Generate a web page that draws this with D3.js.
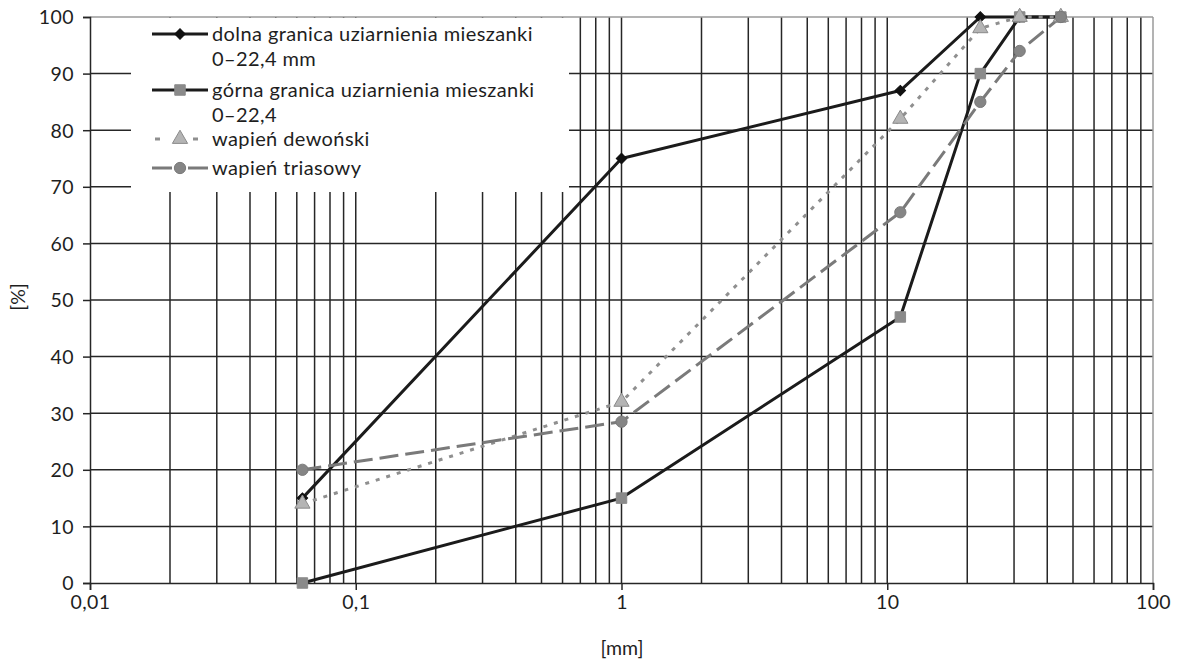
<!DOCTYPE html>
<html>
<head>
<meta charset="utf-8">
<script src="https://cdn.jsdelivr.net/npm/d3@7"></script>
<style>
  html, body { margin: 0; padding: 0; background: #fff; }
  svg { display: block; font-family: Lato, "Open Sans", sans-serif; }
</style>
</head>
<body>
<svg id="chart" width="1178" height="662"></svg>
<script>
// Sieve sizes [mm] and cumulative passing [%]
const sieves = [0.063, 1, 11.2, 22.4, 31.5, 45];
const lowerLimit = [15, 75, 87, 100, 100, 100];
const upperLimit = [0, 15, 47, 90, 100, 100];
const devonianLimestone = [14, 32, 82, 98, 100, 100];
const triassicLimestone = [20, 28.5, 65.5, 85, 94, 100];

const xTicks = [0.01, 0.1, 1, 10, 100];
const xTickLabels = ["0,01", "0,1", "1", "10", "100"];
const yTicks = [0, 10, 20, 30, 40, 50, 60, 70, 80, 90, 100];

const seriesNames = [
  ["dolna granica uziarnienia mieszanki", "0–22,4 mm"],
  ["górna granica uziarnienia mieszanki", "0–22,4"],
  ["wapień dewoński"],
  ["wapień triasowy"]
];

(function () {
const svg = d3.select("#chart");
const plotLeft = 90, plotRight = 1153, plotTop = 17, plotBottom = 583;
const textColor = "#1e1e1e";
const fontFamily = "Lato, 'Open Sans', sans-serif";
const tickFont = 19.5;

const x = d3.scaleLog().domain([0.01, 100]).range([plotLeft, plotRight]);
const y = d3.scaleLinear().domain([0, 100]).range([plotBottom, plotTop]);

const gridColor = "#262626";

// Vertical grid: 1..9 in every decade
const minorX = [];
for (let e = -2; e < 2; e++) {
  for (let k = 1; k <= 9; k++) minorX.push(k * Math.pow(10, e));
}

svg.append("g").selectAll("line").data(minorX.filter(v => v > 0.01 && v < 100)).join("line")
  .attr("x1", d => x(d)).attr("x2", d => x(d))
  .attr("y1", plotTop).attr("y2", plotBottom)
  .attr("stroke", gridColor).attr("stroke-width", 1.5);

// Horizontal grid
svg.append("g").selectAll("line").data(yTicks.filter(v => v > 0 && v < 100)).join("line")
  .attr("x1", plotLeft).attr("x2", plotRight)
  .attr("y1", d => y(d)).attr("y2", d => y(d))
  .attr("stroke", gridColor).attr("stroke-width", 1.5);

// Plot border (top / right)
svg.append("line").attr("x1", plotLeft).attr("x2", plotRight).attr("y1", plotTop).attr("y2", plotTop)
  .attr("stroke", "#9a9a9a").attr("stroke-width", 1.5);
svg.append("line").attr("x1", plotRight).attr("x2", plotRight).attr("y1", plotTop).attr("y2", plotBottom)
  .attr("stroke", "#9a9a9a").attr("stroke-width", 1.5);

// Axes
const xAxis = d3.axisBottom(x).tickValues(xTicks)
  .tickFormat((d, i) => xTickLabels[i]).tickSize(7).tickPadding(5);
const yAxis = d3.axisLeft(y).tickValues(yTicks).tickSize(7).tickPadding(9);

const gx = svg.append("g").attr("transform", `translate(0,${plotBottom})`).call(xAxis);
const gy = svg.append("g").attr("transform", `translate(${plotLeft},0)`).call(yAxis);
[gx, gy].forEach(g => {
  g.select(".domain").attr("stroke", gridColor).attr("stroke-width", 1.5);
  g.selectAll(".tick line").attr("stroke", gridColor).attr("stroke-width", 1.5);
  g.selectAll("text").attr("fill", textColor).attr("font-size", tickFont)
    .attr("font-family", fontFamily).attr("letter-spacing", 0.4);
});
gy.selectAll(".tick text").attr("dy", "0.35em");

// Axis titles
svg.append("text").attr("x", 622).attr("y", 655)
  .attr("text-anchor", "middle").attr("font-size", tickFont).attr("fill", textColor).text("[mm]");
svg.append("text").attr("transform", "translate(25,297) rotate(-90)")
  .attr("text-anchor", "middle").attr("font-size", tickFont).attr("fill", textColor).text("[%]");

// Series definitions
const series = [
  { values: lowerLimit, stroke: "#1b1b1b", width: 3, dash: null, marker: "diamond", fill: "#111", mstroke: "#111" },
  { values: upperLimit, stroke: "#1b1b1b", width: 3, dash: null, marker: "square", fill: "#8a8a8a", mstroke: "#8a8a8a" },
  { values: devonianLimestone, stroke: "#8f8f8f", width: 3, dash: "4,7", marker: "triangle", fill: "#b4b4b4", mstroke: "#8a8a8a" },
  { values: triassicLimestone, stroke: "#7a7a7a", width: 3, dash: "19,7", marker: "circle", fill: "#858585", mstroke: "#7a7a7a" }
];

const symbolTypes = {
  diamond: d3.symbolSquare, square: d3.symbolSquare,
  triangle: d3.symbolTriangle, circle: d3.symbolCircle
};
const symbolSizes = { diamond: 55, square: 110, triangle: 100, circle: 100 };
const symbolRotate = { diamond: 45, square: 0, triangle: 0, circle: 0 };

const line = d3.line().x(d => x(d[0])).y(d => y(d[1]));

const plot = svg.append("g");
series.forEach(s => {
  const pts = sieves.map((v, i) => [v, s.values[i]]);
  plot.append("path").datum(pts).attr("d", line)
    .attr("fill", "none").attr("stroke", s.stroke).attr("stroke-width", s.width)
    .attr("stroke-dasharray", s.dash).attr("stroke-linejoin", "round");
});
series.forEach(s => {
  const pts = sieves.map((v, i) => [v, s.values[i]]);
  plot.append("g").selectAll("path").data(pts).join("path")
    .attr("transform", d => `translate(${x(d[0])},${y(d[1])}) rotate(${symbolRotate[s.marker]})`)
    .attr("d", d3.symbol().type(symbolTypes[s.marker]).size(symbolSizes[s.marker]))
    .attr("fill", s.fill).attr("stroke", s.mstroke).attr("stroke-width", 1);
});

// Legend (white box over the grid)
const legend = svg.append("g");
legend.append("rect").attr("x", 131).attr("y", plotTop + 1).attr("width", 438).attr("height", 174)
  .attr("fill", "#fff");
const rowsY = [34, 90, 139, 168];
const legendDash = [null, null, "5,33", "20,16"];
series.forEach((s, i) => {
  const g = legend.append("g").attr("transform", `translate(0,${rowsY[i]})`);
  g.append("line").attr("x1", i === 2 ? 155 : 152).attr("x2", 208).attr("y1", 0).attr("y2", 0)
    .attr("stroke", s.stroke).attr("stroke-width", s.width)
    .attr("stroke-dasharray", legendDash[i]);
  g.append("path").attr("transform", `translate(180,0) rotate(${symbolRotate[s.marker]})`)
    .attr("d", d3.symbol().type(symbolTypes[s.marker]).size(symbolSizes[s.marker]))
    .attr("fill", s.fill).attr("stroke", s.mstroke).attr("stroke-width", 1);
  seriesNames[i].forEach((t, j) => {
    g.append("text").attr("x", 212).attr("y", j * 25).attr("dy", "0.35em")
      .attr("font-size", 20).attr("letter-spacing", 0.4).attr("font-family", fontFamily)
      .attr("fill", textColor).text(t);
  });
});
})();
</script>
</body>
</html>
